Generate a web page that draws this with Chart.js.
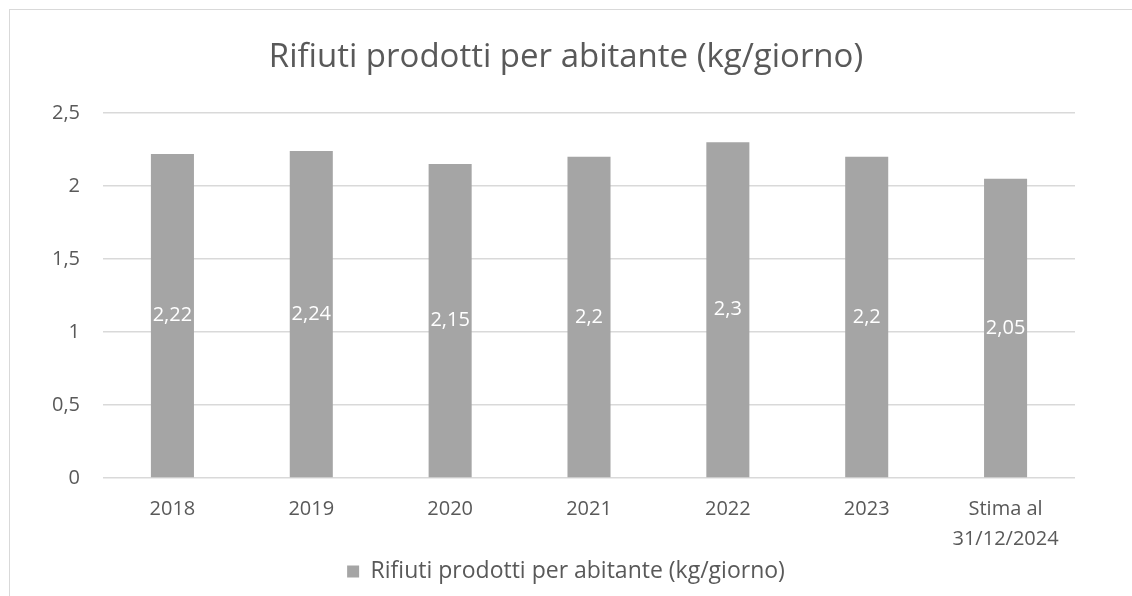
<!DOCTYPE html>
<html>
<head>
<meta charset="utf-8">
<script src="https://cdn.jsdelivr.net/npm/chart.js@4"></script>
<style>
  html, body { margin: 0; padding: 0; background: #fff; overflow: hidden; }
  .frame { position: absolute; left: 9px; top: 9px; width: 1200px; height: 700px; border: 1px solid #d9d9d9; }
  .wrap { position: absolute; left: 0; top: 0; width: 1132px; height: 596px; }
</style>
</head>
<body>
<div class="frame"></div>
<div class="wrap"><canvas class="chart" width="1132" height="596"></canvas></div>
<script>
const anni = ['2018', '2019', '2020', '2021', '2022', '2023', ['Stima al', '31/12/2024']];
const rifiuti = [2.22, 2.24, 2.15, 2.2, 2.3, 2.2, 2.05];
const titolo = 'Rifiuti prodotti per abitante (kg/giorno)';
const serie = 'Rifiuti prodotti per abitante (kg/giorno)';

const grigio = '#a5a5a5';
const testo = '#595959';
const griglia = '#d9d9d9';
const font = "'Open Sans', sans-serif";

// virgola come separatore decimale
const virgola = v => String(Math.round(v * 100) / 100).replace('.', ',');

// etichette bianche al centro delle barre
const etichette = {
    id: 'etichette',
    afterDatasetsDraw(chart) {
        const ctx = chart.ctx;
        const meta = chart.getDatasetMeta(0);
        ctx.save();
        ctx.font = '20px ' + font;
        ctx.fillStyle = '#ffffff';
        ctx.textAlign = 'center';
        ctx.textBaseline = 'middle';
        meta.data.forEach((bar, i) => {
            ctx.fillText(virgola(rifiuti[i]), bar.x, (bar.y + bar.base) / 2);
        });
        ctx.restore();
    }
};

const ctx = document.querySelector('.chart').getContext('2d');
new Chart(ctx, {
    type: 'bar',
    data: {
        labels: anni,
        datasets: [{
            label: serie,
            data: rifiuti,
            backgroundColor: grigio,
            barPercentage: 0.31,
            categoryPercentage: 1
        }]
    },
    options: {
        responsive: false,
        animation: false,
        layout: { padding: { left: 0, right: 0, top: 0, bottom: 3 } },
        plugins: {
            title: {
                display: true,
                text: titolo,
                color: testo,
                font: { family: font, size: 33, weight: 'normal' },
                padding: { top: 38, bottom: 35.4 }
            },
            legend: {
                position: 'bottom',
                labels: {
                    color: testo,
                    font: { family: font, size: 23 },
                    boxWidth: 12,
                    boxHeight: 12
                }
            },
            tooltip: { enabled: false }
        },
        scales: {
            x: {
                grid: { display: false },
                border: { display: false },
                ticks: {
                    color: testo,
                    font: { family: font, size: 20, lineHeight: 1.5 },
                    padding: 8,
                    maxRotation: 0
                },
                afterFit(scale) { scale.height = 72; }
            },
            y: {
                min: 0,
                max: 2.5,
                border: { display: false },
                grid: { color: griglia, lineWidth: 1.5, drawTicks: false },
                ticks: {
                    stepSize: 0.5,
                    color: testo,
                    font: { family: font, size: 20 },
                    padding: 23,
                    callback: v => virgola(v)
                },
                afterFit(scale) { scale.width = 103; }
            },
            // margine destro vuoto, così titolo e legenda restano centrati
            destra: {
                position: 'right',
                min: 0,
                max: 2.5,
                grid: { display: false },
                border: { display: false },
                ticks: { display: false },
                afterFit(scale) { scale.width = 57; }
            }
        }
    },
    plugins: [etichette]
});
</script>
</body>
</html>
